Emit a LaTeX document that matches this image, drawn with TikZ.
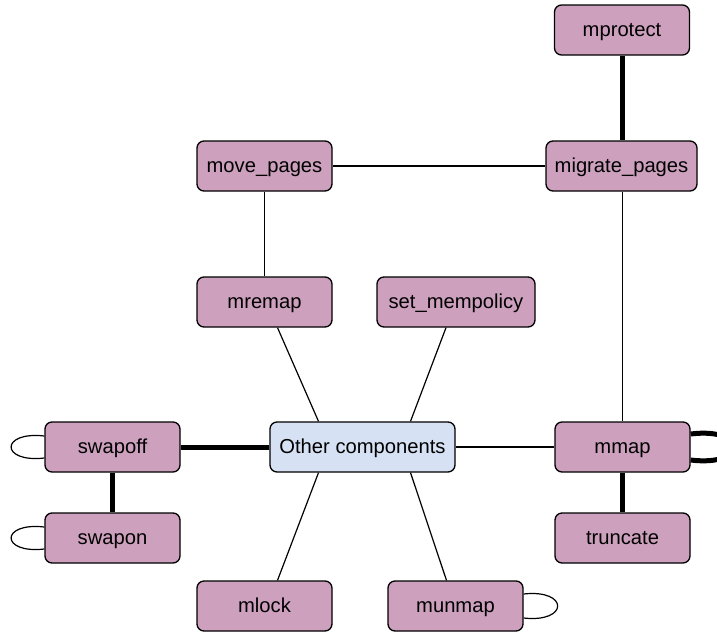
\documentclass[tikz,border=0pt]{standalone}
\usepackage{fontspec}
\setmainfont{Liberation Sans}
\usetikzlibrary{calc}
\definecolor{callfill}{HTML}{CDA0BE}
\definecolor{corefill}{HTML}{D6E1F3}
\pgfdeclarelayer{edges}
\pgfsetlayers{edges,main}
\begin{document}
\begin{tikzpicture}[x=1pt,y=-1pt,
  box/.style={draw=black, line width=1.3pt, rounded corners=7pt, fill=callfill,
    minimum width=135pt, minimum height=50pt, inner sep=0pt,
    text height=15pt, text depth=3pt,
    font=\fontsize{20.2}{24}\selectfont},
  corebox/.style={box, fill=corefill, minimum width=185pt},
  thin/.style={draw=black, line width=1.2pt},
  heavy/.style={draw=black, line width=5pt}]
\useasboundingbox (0,0) rectangle (717,632);
\clip (0,0) rectangle (717,632);

% system calls and the central component
\node[box] (mprotect) at (622,30) {mprotect};
\node[box, minimum width=151pt] (migrate) at (621.5,166) {migrate\_pages};
\node[box] (move) at (264.5,166) {move\_pages};
\node[box] (mremap) at (264.5,302) {mremap};
\node[box, minimum width=158pt] (setmem) at (456,302) {set\_mempolicy};
\node[box] (swapoff) at (112.5,447) {swapoff};
\node[corebox] (other) at (362.5,447) {Other components};
\node[box] (mmap) at (622.5,447) {mmap};
\node[box] (swapon) at (112.5,538) {swapon};
\node[box] (truncate) at (622.5,538) {truncate};
\node[box] (mlock) at (264.5,606) {mlock};
\node[box] (munmap) at (455.5,606) {munmap};

\begin{pgfonlayer}{edges}
% connectors
\draw[heavy] (mprotect.south) -- (migrate.north -| mprotect.south);
\draw[thin] (move.east) -- (migrate.west);
\draw[thin] (move.south) -- (mremap.north);
\draw[thin] (migrate.south -| mmap.north) -- (mmap.north);
\draw[thin] ($(mremap.south)+(13,0)$) -- ($(other.north)+(-44,0)$);
\draw[thin] ($(setmem.south)+(-10,0)$) -- ($(other.north)+(48,0)$);
\draw[thin] ($(other.south)+(-44,0)$) -- ($(mlock.north)+(13,0)$);
\draw[thin] ($(other.south)+(48,0)$) -- ($(munmap.north)+(-9,0)$);
\draw[heavy] (swapoff.east) -- (other.west);
\draw[heavy] (swapoff.south) -- (swapon.north);
\draw[thin] (other.east) -- (mmap.west);
\draw[heavy] (mmap.south) -- (truncate.north);

% self loops
\draw[thin] ($(swapoff.west)+(0,-11)$) .. controls (0,431) and (0,463) .. ($(swapoff.west)+(0,11)$);
\draw[thin] ($(swapon.west)+(0,-11)$) .. controls (0,522) and (0,554) .. ($(swapon.west)+(0,11)$);
\draw[thin] ($(munmap.east)+(0,-12)$) .. controls (569,589) and (569,623) .. ($(munmap.east)+(0,12)$);
\draw[heavy] ($(mmap.east)+(0,-13)$) .. controls (748,427) and (748,467) .. ($(mmap.east)+(0,13)$);
\end{pgfonlayer}
\end{tikzpicture}
\end{document}
